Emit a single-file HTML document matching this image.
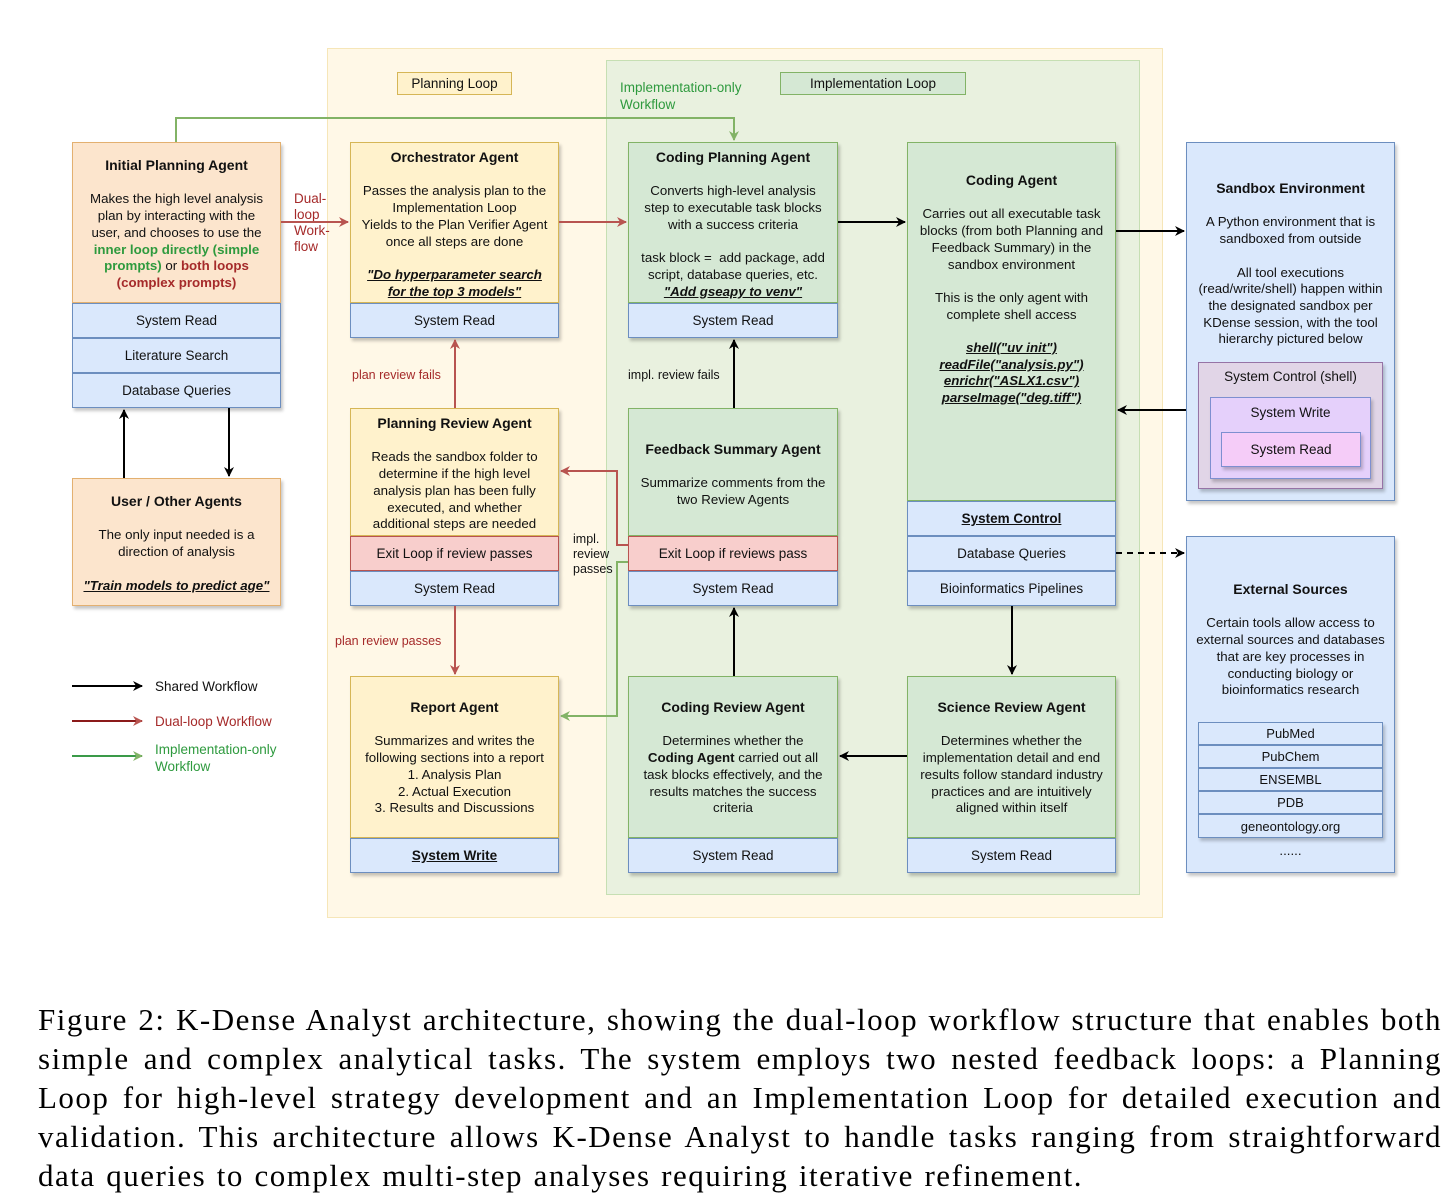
<!DOCTYPE html>
<html><head><meta charset="utf-8">
<style>
body{margin:0;width:1456px;height:1199px;background:#fff;position:relative;overflow:hidden;font-family:"Liberation Sans",Arial,sans-serif;color:#111}
.a{position:absolute;box-sizing:border-box}
.box{box-shadow:2px 3px 3px rgba(0,0,0,.22)}
.or{background:#fce5cd;border:1.5px solid #e3b070}
.ye{background:#fff2cc;border:1.5px solid #d6b656}
.gr{background:#d5e8d4;border:1.5px solid #82b366}
.bl{background:#dae8fc;border:1.5px solid #6c8ebf}
.rd{background:#f8cecc;border:1.5px solid #b85450}
.row{display:flex;align-items:center;justify-content:center;font-size:13.5px}
.t{position:absolute;text-align:center;font-size:13.3px;line-height:16.7px;left:0;right:0;padding:0 9px}
.t b{font-size:14px}
.u{font-weight:bold;font-style:italic;text-decoration:underline}
.lbl{position:absolute;font-size:12.5px;line-height:16px}
.red{color:#a52a2a}.grn{color:#2e9a3e}
.cap{position:absolute;left:38px;top:1000px;width:1404px;font-family:"Liberation Serif",serif;font-size:31px;line-height:39px;color:#000;letter-spacing:1.5px}
.cap div{text-align:justify;text-align-last:justify;white-space:nowrap;height:39px}
.cap div.l{width:1045px}
</style></head><body>
<div class="a" style="left:327px;top:48px;width:836px;height:870px;background:#fff8e7;border:1.5px solid #f6e6b8"></div>
<div class="a" style="left:606px;top:60px;width:534px;height:835px;background:#e9f1df;border:1.5px solid #c6dfb3"></div>
<div class="a row ye" style="left:397px;top:72px;width:115px;height:23px">Planning Loop</div>
<div class="a row gr" style="left:780px;top:72px;width:186px;height:23px">Implementation Loop</div>
<div class="lbl grn" style="left:620px;top:79px;font-size:13.5px;line-height:17px">Implementation-only<br>Workflow</div>

<div class="a box or" style="left:72px;top:142px;width:209px;height:161px"><div class="t" style="top:14px;padding:0 12px"><b>Initial Planning Agent</b><br><br>Makes the high level analysis plan by interacting with the user, and chooses to use the <b class="grn" style="font-size:13.3px">inner loop directly (simple prompts)</b> or <b class="red" style="font-size:13.3px">both loops (complex prompts)</b></div></div>
<div class="a row bl box" style="left:72px;top:303px;width:209px;height:35px">System Read</div>
<div class="a row bl box" style="left:72px;top:338px;width:209px;height:35px">Literature Search</div>
<div class="a row bl box" style="left:72px;top:373px;width:209px;height:35px">Database Queries</div>

<div class="a box ye" style="left:350px;top:142px;width:209px;height:161px"><div class="t" style="top:6px;padding:0 4px"><b>Orchestrator Agent</b><br><br>Passes the analysis plan to the Implementation Loop<br>Yields to the Plan Verifier Agent once all steps are done<br><br><span class="u" style="padding:0 8px;display:inline-block">"Do hyperparameter search for the top 3 models"</span></div></div>
<div class="a row bl box" style="left:350px;top:303px;width:209px;height:35px">System Read</div>

<div class="a box gr" style="left:628px;top:142px;width:210px;height:161px"><div class="t" style="top:6px;padding:0 6px"><b>Coding Planning Agent</b><br><br><span style="display:inline-block;padding:0 8px">Converts high-level analysis step to executable task blocks with a success criteria</span><br><br>task block =&nbsp; add package, add script, database queries, etc.<br><span class="u">"Add gseapy to venv"</span></div></div>
<div class="a row bl box" style="left:628px;top:303px;width:210px;height:35px">System Read</div>

<div class="a box gr" style="left:907px;top:142px;width:209px;height:359px"><div class="t" style="top:29px;padding:0 6px"><b>Coding Agent</b><br><br>Carries out all executable task blocks (from both Planning and Feedback Summary) in the sandbox environment<br><br>This is the only agent with complete shell access<br><br><span class="u">shell("uv init")<br>readFile("analysis.py")<br>enrichr("ASLX1.csv")<br>parseImage("deg.tiff")</span></div></div>
<div class="a row bl box" style="left:907px;top:501px;width:209px;height:35px"><b style="text-decoration:underline">System Control</b></div>
<div class="a row bl box" style="left:907px;top:536px;width:209px;height:35px">Database Queries</div>
<div class="a row bl box" style="left:907px;top:571px;width:209px;height:35px">Bioinformatics Pipelines</div>

<div class="a box bl" style="left:1186px;top:142px;width:209px;height:359px"><div class="t" style="top:37px;padding:0 4px"><b>Sandbox Environment</b><br><br>A Python environment that is sandboxed from outside<br><br>All tool executions (read/write/shell) happen within the designated sandbox per KDense session, with the tool hierarchy pictured below</div></div>
<div class="a box" style="left:1198px;top:362px;width:185px;height:127px;background:#e1d5e7;border:1.5px solid #9673a6"><div class="t" style="top:6px;font-size:13.5px">System Control (shell)</div></div>
<div class="a box" style="left:1210px;top:397px;width:161px;height:82px;background:#e5d0fb;border:1.5px solid #7e8fd0"><div class="t" style="top:7px;font-size:13.5px">System Write</div></div>
<div class="a row box" style="left:1221px;top:432px;width:140px;height:35px;background:#f5ccf8;border:1.5px solid #7e8fd0">System Read</div>

<div class="a box ye" style="left:350px;top:408px;width:209px;height:128px"><div class="t" style="top:6px;padding:0 14px"><b>Planning Review Agent</b><br><br>Reads the sandbox folder to determine if the high level analysis plan has been fully executed, and whether additional steps are needed</div></div>
<div class="a row rd box" style="left:350px;top:536px;width:209px;height:35px">Exit Loop if review passes</div>
<div class="a row bl box" style="left:350px;top:571px;width:209px;height:35px">System Read</div>

<div class="a box gr" style="left:628px;top:408px;width:210px;height:128px"><div class="t" style="top:32px"><b>Feedback Summary Agent</b><br><br>Summarize comments from the two Review Agents</div></div>
<div class="a row rd box" style="left:628px;top:536px;width:210px;height:35px">Exit Loop if reviews pass</div>
<div class="a row bl box" style="left:628px;top:571px;width:210px;height:35px">System Read</div>

<div class="a box or" style="left:72px;top:478px;width:209px;height:128px"><div class="t" style="top:14px"><b>User / Other Agents</b><br><br>The only input needed is a direction of analysis<br><br><span class="u">"Train models to predict age"</span></div></div>

<div class="a box bl" style="left:1186px;top:536px;width:209px;height:337px"><div class="t" style="top:44px;padding:0 4px"><b>External Sources</b><br><br>Certain tools allow access to external sources and databases that are key processes in conducting biology or bioinformatics research</div>
<div class="t" style="top:306px">......</div></div>
<div class="a row bl box" style="left:1198px;top:722px;width:185px;height:23px;font-size:13px">PubMed</div>
<div class="a row bl box" style="left:1198px;top:745px;width:185px;height:23px;font-size:13px">PubChem</div>
<div class="a row bl box" style="left:1198px;top:768px;width:185px;height:23px;font-size:13px">ENSEMBL</div>
<div class="a row bl box" style="left:1198px;top:791px;width:185px;height:23px;font-size:13px">PDB</div>
<div class="a row bl box" style="left:1198px;top:814px;width:185px;height:24px;font-size:13px">geneontology.org</div>

<div class="a box ye" style="left:350px;top:676px;width:209px;height:162px"><div class="t" style="top:22px"><b>Report Agent</b><br><br>Summarizes and writes the following sections into a report<br>1. Analysis Plan<br>2. Actual Execution<br>3. Results and Discussions</div></div>
<div class="a row bl box" style="left:350px;top:838px;width:209px;height:35px"><b style="text-decoration:underline">System Write</b></div>

<div class="a box gr" style="left:628px;top:676px;width:210px;height:162px"><div class="t" style="top:22px;padding:0 10px"><b>Coding Review Agent</b><br><br>Determines whether the <b style="font-size:13.3px">Coding Agent</b> carried out all task blocks effectively, and the results matches the success criteria</div></div>
<div class="a row bl box" style="left:628px;top:838px;width:210px;height:35px">System Read</div>

<div class="a box gr" style="left:907px;top:676px;width:209px;height:162px"><div class="t" style="top:22px;padding:0 6px"><b>Science Review Agent</b><br><br>Determines whether the implementation detail and end results follow standard industry practices and are intuitively aligned within itself</div></div>
<div class="a row bl box" style="left:907px;top:838px;width:209px;height:35px">System Read</div>

<div class="lbl red" style="left:294px;top:191px;font-size:13.5px">Dual-<br>loop<br>Work-<br>flow</div>
<div class="lbl red" style="left:352px;top:367px">plan review fails</div>
<div class="lbl" style="left:628px;top:367px">impl. review fails</div>
<div class="lbl" style="left:573px;top:532px;line-height:15px">impl.<br>review<br>passes</div>
<div class="lbl red" style="left:335px;top:633px">plan review passes</div>
<div class="lbl" style="left:155px;top:679px;font-size:13.5px">Shared Workflow</div>
<div class="lbl red" style="left:155px;top:714px;font-size:13.5px">Dual-loop Workflow</div>
<div class="lbl grn" style="left:155px;top:741px;font-size:13.5px;line-height:17px">Implementation-only<br>Workflow</div>

<svg class="a" style="left:0;top:0" width="1456" height="960" viewBox="0 0 1456 960">
<defs>
<marker id="k" markerWidth="10" markerHeight="10" refX="9" refY="5" orient="auto" markerUnits="userSpaceOnUse"><path d="M0,0 L10,5 L0,10 L3,5z" fill="#000"/></marker>
<marker id="r" markerWidth="10" markerHeight="10" refX="9" refY="5" orient="auto" markerUnits="userSpaceOnUse"><path d="M0,0 L10,5 L0,10 L3,5z" fill="#b85450"/></marker>
<marker id="g" markerWidth="10" markerHeight="10" refX="9" refY="5" orient="auto" markerUnits="userSpaceOnUse"><path d="M0,0 L10,5 L0,10 L3,5z" fill="#82b366"/></marker>
</defs>
<g fill="none" stroke-width="2">
<path d="M176,142 V118 H734 V140" stroke="#82b366" marker-end="url(#g)"/>
<path d="M281,222 H348" stroke="#b85450" marker-end="url(#r)"/>
<path d="M559,222 H626" stroke="#b85450" marker-end="url(#r)"/>
<path d="M838,222 H905" stroke="#000" marker-end="url(#k)"/>
<path d="M1116,231 H1184" stroke="#000" marker-end="url(#k)"/>
<path d="M1186,410 H1118" stroke="#000" marker-end="url(#k)"/>
<path d="M455,408 V340" stroke="#b85450" marker-end="url(#r)"/>
<path d="M734,408 V340" stroke="#000" marker-end="url(#k)"/>
<path d="M628,545 H617 V471 H561" stroke="#b85450" marker-end="url(#r)"/>
<path d="M628,562 H617 V716 H561" stroke="#82b366" marker-end="url(#g)"/>
<path d="M455,606 V674" stroke="#b85450" marker-end="url(#r)"/>
<path d="M734,676 V608" stroke="#000" marker-end="url(#k)"/>
<path d="M1012,606 V674" stroke="#000" marker-end="url(#k)"/>
<path d="M907,756 H840" stroke="#000" marker-end="url(#k)"/>
<path d="M1116,553 H1184" stroke="#000" stroke-dasharray="6,5" marker-end="url(#k)"/>
<path d="M124,478 V410" stroke="#000" marker-end="url(#k)"/>
<path d="M229,408 V476" stroke="#000" marker-end="url(#k)"/>
<path d="M72,686 H142" stroke="#000" marker-end="url(#k)"/>
<path d="M72,721 H142" stroke="#8b1a1a" marker-end="url(#r)"/>
<path d="M72,756 H142" stroke="#3a9a48" marker-end="url(#g)"/>
</g>
</svg>

<div class="cap">
<div>Figure 2: K-Dense Analyst architecture, showing the dual-loop workflow structure that enables both</div>
<div>simple and complex analytical tasks. The system employs two nested feedback loops: a Planning</div>
<div>Loop for high-level strategy development and an Implementation Loop for detailed execution and</div>
<div>validation. This architecture allows K-Dense Analyst to handle tasks ranging from straightforward</div>
<div class="l">data queries to complex multi-step analyses requiring iterative refinement.</div>
</div>
</body></html>
